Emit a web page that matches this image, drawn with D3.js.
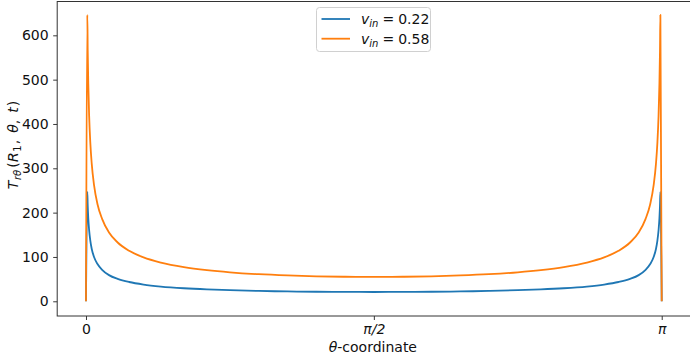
<!DOCTYPE html>
<html><head><meta charset="utf-8">
<script src="https://cdn.jsdelivr.net/npm/d3@7"></script>
<style>body{margin:0;background:#fff}svg{display:block}text{font-family:"DejaVu Sans",sans-serif}</style>
</head><body><svg id="c" width="690" height="356"></svg>
<script>
// theta as fraction of pi
const thetaFrac = [0, 0.0023, 0.003, 0.004, 0.0055, 0.0075, 0.01, 0.014, 0.02, 0.028, 0.04, 0.055, 0.075, 0.1, 0.13, 0.17, 0.21, 0.25, 0.3, 0.35, 0.4, 0.45, 0.5,
  0.55, 0.6, 0.65, 0.7, 0.75, 0.79, 0.83, 0.87, 0.9, 0.925, 0.945, 0.96, 0.972, 0.98, 0.986, 0.99, 0.9925, 0.9945, 0.996, 0.997, 0.9977, 1];
const seriesLow = [0, 247, 216, 187, 160, 137, 118, 100, 84, 71, 59, 50.6, 43.5, 37.8, 33.3, 29.4, 26.8, 25, 23.3, 22.2, 21.5, 21.1, 21,
  21.1, 21.5, 22.2, 23.3, 25, 26.8, 29.4, 33.3, 37.8, 43.5, 50.6, 59, 71, 84, 100, 118, 137, 160, 187, 216, 247, 0];
const seriesHigh = [0, 646, 566, 490, 418, 358, 310, 262, 219, 186, 155, 132.6, 113.8, 98.9, 87.3, 77.1, 70.3, 65.4, 61.1, 58.3, 56.4, 55.3, 55,
  55.3, 56.4, 58.3, 61.1, 65.4, 70.3, 77.1, 87.3, 98.9, 113.8, 132.6, 155, 186, 219, 262, 310, 358, 418, 490, 566, 646, 0];
const seriesNames = ["0.22", "0.58"];
const colors = ["#1f77b4", "#ff7f0e"];
const yTicks = [0, 100, 200, 300, 400, 500, 600];
const xTicks = [0, Math.PI / 2, Math.PI];
const xTickLabels = ["0", "π/2", "π"];

const FS = 14;
const svg = d3.select("#c");
const L = 57.2, R = 690.5, T = 1.5, B = 316;
const x = d3.scaleLinear().domain([-0.05 * Math.PI, 1.05 * Math.PI]).range([L, R]);
const y = d3.scaleLinear().domain([-33.2, 676.3]).range([B, T]);

const theta = thetaFrac.map(f => f * Math.PI);
const line = d3.line().x(d => x(d[0])).y(d => y(d[1])).curve(d3.curveMonotoneX);
svg.append("clipPath").attr("id", "clp").append("rect")
  .attr("x", L).attr("y", T).attr("width", R - L).attr("height", B - T);
[seriesLow, seriesHigh].forEach((s, i) => {
  svg.append("path").attr("clip-path", "url(#clp)")
    .datum(theta.map((t, j) => [t, s[j]]))
    .attr("d", line).attr("fill", "none").attr("stroke", colors[i])
    .attr("stroke-width", 1.8).attr("stroke-linejoin", "round");
});

// axes
const xAxis = d3.axisBottom(x).tickValues(xTicks).tickFormat((d, i) => xTickLabels[i]).tickSize(4).tickPadding(4);
const yAxis = d3.axisLeft(y).tickValues(yTicks).tickSize(4).tickPadding(4.5);
const gx = svg.append("g").attr("transform", `translate(0,${B})`).call(xAxis);
const gy = svg.append("g").attr("transform", `translate(${L},0)`).call(yAxis);
[gx, gy].forEach(g => {
  g.select(".domain").remove();
  g.selectAll("line").attr("stroke", "#222").attr("stroke-width", 0.9);
  g.selectAll("text").attr("font-size", FS).attr("fill", "#111").attr("font-family", "DejaVu Sans");
});
gx.selectAll("text").filter((d, i) => i > 0).attr("font-style", "italic");
// spines
svg.append("rect").attr("x", L).attr("y", T).attr("width", R - L).attr("height", B - T)
  .attr("fill", "none").attr("stroke", "#333").attr("stroke-width", 1);

// x label
const xl = svg.append("text").attr("x", (L + R) / 2 - 1).attr("y", 351.5).attr("text-anchor", "middle").attr("font-size", FS).attr("fill", "#111");
xl.append("tspan").attr("font-style", "italic").text("θ");
xl.append("tspan").text("-coordinate");

// y label
const yl = svg.append("text").attr("transform", `translate(17.5,145) rotate(-90)`)
  .attr("text-anchor", "middle").attr("font-size", FS).attr("fill", "#111");
yl.append("tspan").attr("font-style", "italic").text("T");
yl.append("tspan").attr("font-style", "italic").attr("font-size", 10).attr("dy", 3).attr("dx", 0.5).text("rθ");
yl.append("tspan").attr("dy", -3).attr("dx", 2).text("(");
yl.append("tspan").attr("font-style", "italic").attr("dx", 0.5).text("R");
yl.append("tspan").attr("font-size", 10).attr("dy", 3).attr("dx", 0.5).text("1");
yl.append("tspan").attr("dy", -3).attr("dx", 1).text(",");
yl.append("tspan").attr("font-style", "italic").attr("dx", 7).text("θ");
yl.append("tspan").text(",");
yl.append("tspan").attr("font-style", "italic").attr("dx", 7).text("t");
yl.append("tspan").attr("dx", 1).text(")");

// legend
const lg = svg.append("g");
lg.append("rect").attr("x", 316.5).attr("y", 7.5).attr("width", 114).attr("height", 44).attr("rx", 3)
  .attr("fill", "#fff").attr("fill-opacity", 0.8).attr("stroke", "#d0d0d0").attr("stroke-width", 1);
seriesNames.forEach((n, i) => {
  const yy = 19 + i * 19.7;
  lg.append("line").attr("x1", 321.5).attr("x2", 350).attr("y1", yy).attr("y2", yy)
    .attr("stroke", colors[i]).attr("stroke-width", 1.8);
  const t = lg.append("text").attr("x", 361).attr("y", yy + 5).attr("font-size", FS).attr("fill", "#111");
  t.append("tspan").attr("font-style", "italic").text("v");
  t.append("tspan").attr("font-style", "italic").attr("font-size", 10).attr("dy", 3).text("in");
  t.append("tspan").attr("dy", -3).attr("dx", 4).text("=");
  t.append("tspan").attr("dx", 4).text(n);
});
</script></body></html>
